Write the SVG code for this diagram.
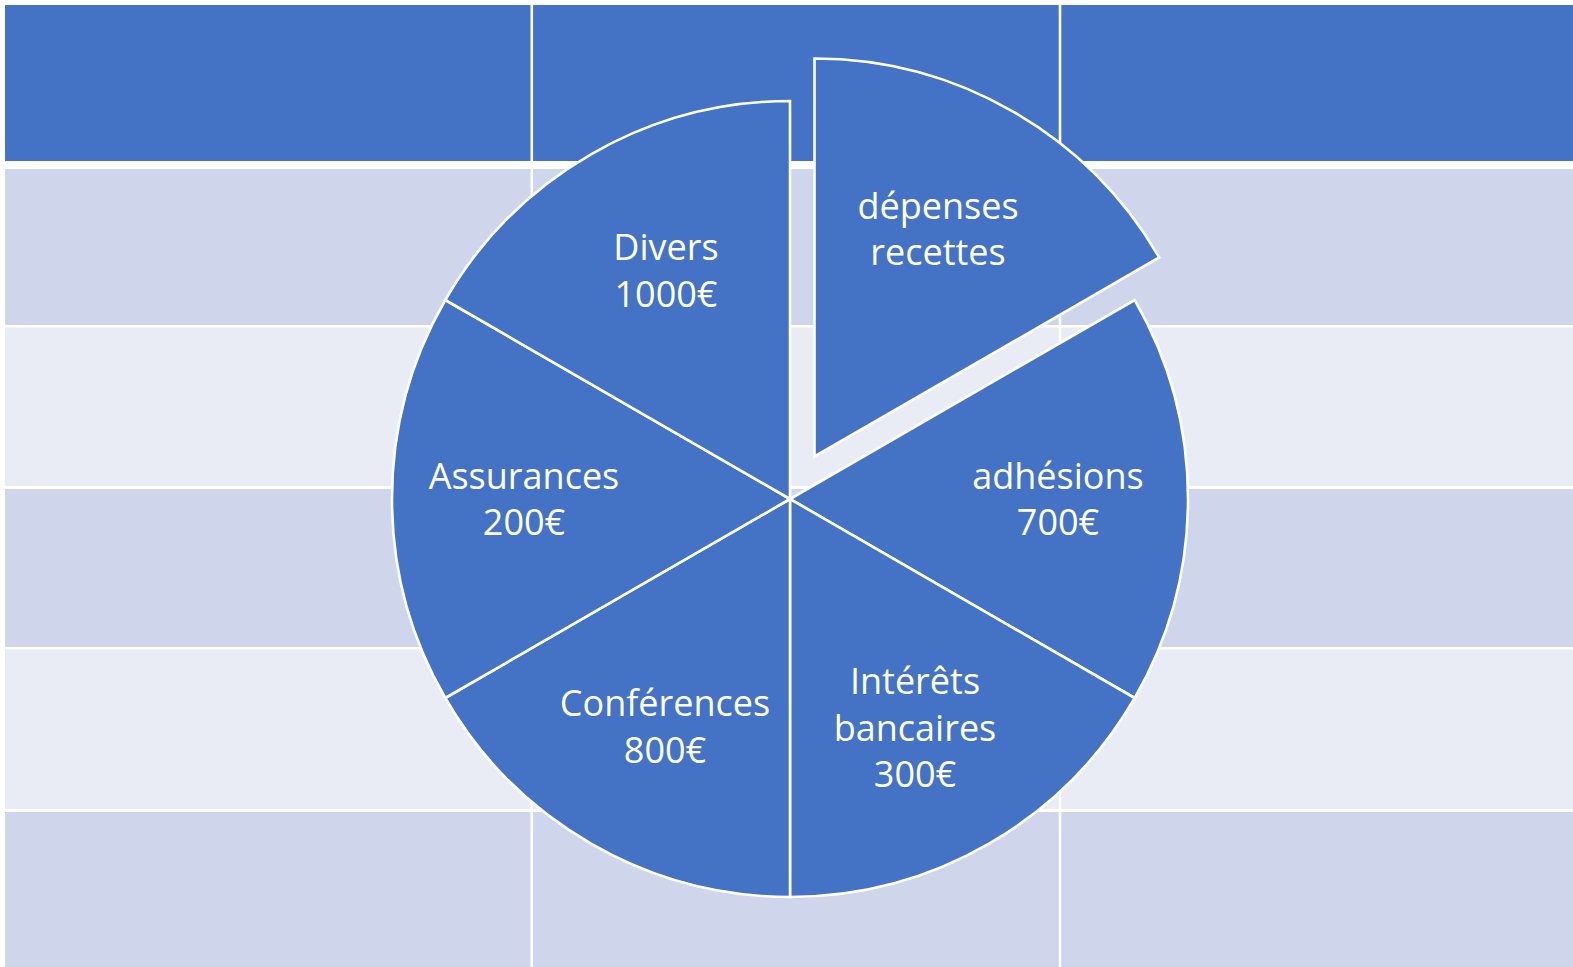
<svg xmlns="http://www.w3.org/2000/svg" width="1573" height="967" viewBox="0 0 1573 967">
<style>
.hdr{fill:#4472C4}
.r1{fill:#CFD5EA}
.r2{fill:#E9EBF5}
.grid{stroke:#FFFFFF;stroke-width:2.6;fill:none}
.slice{fill:#4472C4;stroke:#FFFFFF;stroke-width:2.6;stroke-linejoin:miter}
.lbl{font-family:"Open Sans","Liberation Sans",sans-serif;font-size:36px;fill:#FFFFFF;text-anchor:middle}
</style>
<rect x="0" y="0" width="1573" height="967" fill="#FFFFFF"/>
<g id="table">
<rect class="hdr" x="5" y="5" width="1568" height="156"/>
<rect class="r1" x="5" y="169" width="1568" height="156"/>
<rect class="r2" x="5" y="327.5" width="1568" height="158.5"/>
<rect class="r1" x="5" y="489" width="1568" height="158"/>
<rect class="r2" x="5" y="649.5" width="1568" height="159.5"/>
<rect class="r1" x="5" y="812" width="1568" height="155"/>
<line class="grid" x1="531.8" y1="5" x2="531.8" y2="967"/>
<line class="grid" x1="1060" y1="5" x2="1060" y2="967"/>
</g>
<g id="pie">
<g id="slice-depenses">
<path class="slice" d="M814.5 456.5 L814.5 58.5 A398 398 0 0 1 1159.2 257.5 Z"/>
<text class="lbl" x="938" y="219">dépenses</text>
<text class="lbl" x="938" y="265">recettes</text>
</g>
<g id="slice-adhesions">
<path class="slice" d="M790 499 L1134.7 300 A398 398 0 0 1 1134.7 698 Z"/>
<text class="lbl" x="1058" y="489">adhésions</text>
<text class="lbl" x="1058" y="535">700€</text>
</g>
<g id="slice-interets">
<path class="slice" d="M790 499 L1134.7 698 A398 398 0 0 1 790 897 Z"/>
<text class="lbl" x="915" y="694">Intérêts</text>
<text class="lbl" x="915" y="741">bancaires</text>
<text class="lbl" x="915" y="787">300€</text>
</g>
<g id="slice-conferences">
<path class="slice" d="M790 499 L790 897 A398 398 0 0 1 445.3 698 Z"/>
<text class="lbl" x="665" y="716">Conférences</text>
<text class="lbl" x="665" y="763">800€</text>
</g>
<g id="slice-assurances">
<path class="slice" d="M790 499 L445.3 698 A398 398 0 0 1 445.3 300 Z"/>
<text class="lbl" x="524" y="489">Assurances</text>
<text class="lbl" x="524" y="535">200€</text>
</g>
<g id="slice-divers">
<path class="slice" d="M790 499 L445.3 300 A398 398 0 0 1 790 101 Z"/>
<text class="lbl" x="666" y="260">Divers</text>
<text class="lbl" x="666" y="307">1000€</text>
</g>
</g>
</svg>
